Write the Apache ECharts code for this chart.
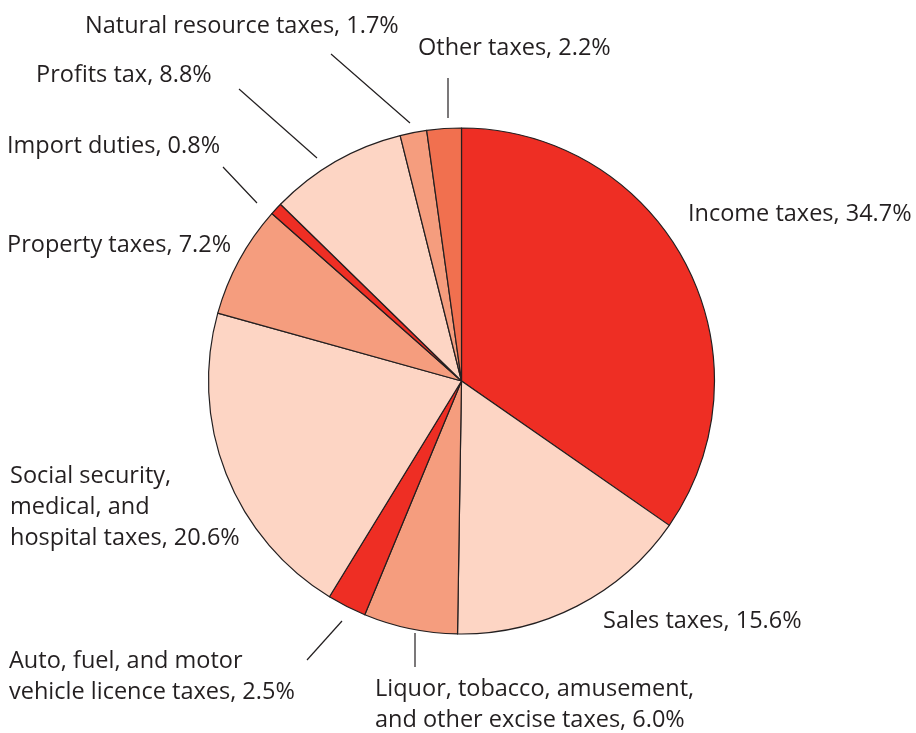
<!DOCTYPE html>
<html>
<head>
<meta charset="utf-8">
<script src="https://cdn.jsdelivr.net/npm/echarts@6/dist/echarts.min.js"></script>
<style>
html,body{margin:0;padding:0;background:#fff;}
#chart{width:916px;height:733px;}
</style>
</head>
<body>
<div id="chart"></div>
<script>
// Data (clockwise from 12 o'clock)
const categories = [
  'Income taxes',
  'Sales taxes',
  'Liquor, tobacco, amusement,\nand other excise taxes',
  'Auto, fuel, and motor\nvehicle licence taxes',
  'Social security,\nmedical, and\nhospital taxes',
  'Property taxes',
  'Import duties',
  'Profits tax',
  'Natural resource taxes',
  'Other taxes'
];
const shares = [34.7, 15.6, 6.0, 2.5, 20.6, 7.2, 0.8, 8.8, 1.7, 2.2];

// Styling / layout (not data)
const sliceColors = ['#EE2E24', '#FDD5C4', '#F59D7E', '#EE2E24', '#FDD5C4', '#F59D7E', '#EE2E24', '#FDD5C4', '#F59D7E', '#F1704F'];
// label anchor: [left x, vertical middle y]
const labelAnchors = [
  [688, 214], [603, 621], [375, 705], [9, 677], [10, 507],
  [7, 245], [7, 146], [36, 75], [85, 26], [418, 48]
];
// leader lines: [inner point, outer point] or null
const leaderLines = [
  null, null,
  [[415, 633], [415, 667]],
  [[342, 621], [307, 660]],
  null, null,
  [[257, 203], [223, 167]],
  [[317, 158], [239, 89]],
  [[410, 123], [331, 54]],
  [[448, 118], [448, 78]]
];

const textColor = '#231F20';
const fontFamily = 'Open Sans';

const chart = echarts.init(document.getElementById('chart'), null, {renderer: 'canvas'});
chart.setOption({
  backgroundColor: '#ffffff',
  animation: false,
  series: [{
    type: 'pie',
    center: [461.5, 381],
    radius: 253,
    startAngle: 90,
    clockwise: true,
    avoidLabelOverlap: false,
    silent: true,
    emphasis: {disabled: true},
    itemStyle: {borderColor: textColor, borderWidth: 1.2},
    label: {
      show: true,
      position: 'outside',
      color: textColor,
      fontFamily: fontFamily,
      fontSize: 23.5,
      lineHeight: 31,
      formatter: p => p.name + ', ' + p.value.toFixed(1) + '%'
    },
    labelLine: {
      show: true,
      lineStyle: {color: textColor, width: 1.2}
    },
    labelLayout: function (params) {
      const i = params.dataIndex;
      const a = labelAnchors[i];
      const res = {x: a[0], y: a[1], align: 'left', verticalAlign: 'middle'};
      const l = leaderLines[i];
      if (l) {
        res.labelLinePoints = [l[0], [(l[0][0] + l[1][0]) / 2, (l[0][1] + l[1][1]) / 2], l[1]];
      }
      return res;
    },
    data: categories.map((c, i) => ({
      name: c,
      value: shares[i],
      itemStyle: {color: sliceColors[i]},
      labelLine: {show: !!leaderLines[i]}
    }))
  }]
});
</script>
</body>
</html>
